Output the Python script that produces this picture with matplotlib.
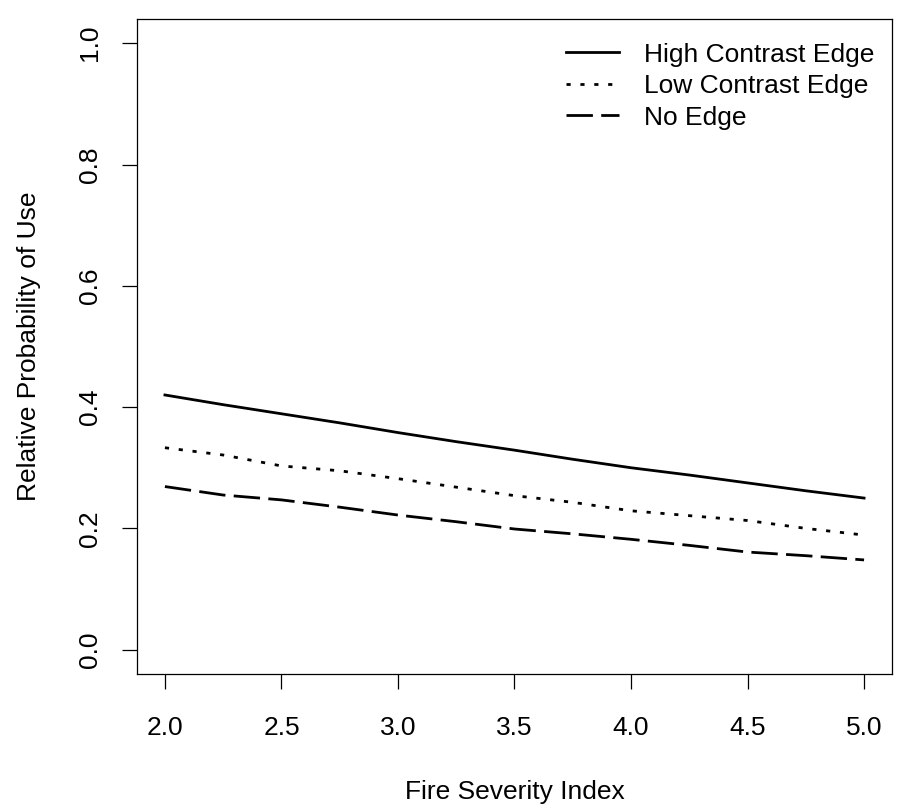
import numpy as np
import matplotlib.pyplot as plt

plt.rcParams['font.family'] = ['Liberation Sans', 'DejaVu Sans']

# Fire severity index values where the curves were read
severity = [2.0, 2.25, 2.5, 2.75, 3.0, 3.25, 3.5, 3.75, 4.0, 4.25, 4.5, 4.75, 5.0]

high_contrast = [0.420, 0.404, 0.389, 0.374, 0.358, 0.343, 0.329, 0.314,
                 0.300, 0.288, 0.275, 0.262, 0.250]
low_contrast = [0.333, 0.321, 0.303, 0.295, 0.282, 0.268, 0.254, 0.243,
                0.229, 0.221, 0.213, 0.200, 0.189]
no_edge = [0.269, 0.255, 0.247, 0.235, 0.222, 0.211, 0.199, 0.191,
           0.182, 0.172, 0.161, 0.155, 0.148]

labels = ['High Contrast Edge', 'Low Contrast Edge', 'No Edge']
xticks = [2.0, 2.5, 3.0, 3.5, 4.0, 4.5, 5.0]
yticks = [0.0, 0.2, 0.4, 0.6, 0.8, 1.0]

fs = 19

fig = plt.figure(figsize=(9.07, 8.11), dpi=100)
ax = fig.add_axes([0.151, 0.169, 0.8325, 0.8076])

ax.plot(severity, high_contrast, color='black', lw=2, label=labels[0])
ax.plot(severity, low_contrast, color='black', lw=2, dashes=(1.5, 3.5), label=labels[1])
ax.plot(severity, no_edge, color='black', lw=2, dashes=(9.5, 3), label=labels[2])

ax.set_xlim(1.88, 5.12)
ax.set_ylim(-0.04, 1.04)
ax.set_xticks(xticks)
ax.set_xticklabels(['%.1f' % v for v in xticks])
ax.set_yticks(yticks)
ax.set_yticklabels(['%.1f' % v for v in yticks], rotation=90, va='center')

ax.tick_params(direction='out', length=11, width=0.9, labelsize=fs)
ax.tick_params(axis='x', pad=19)
ax.tick_params(axis='y', pad=14)
for s in ax.spines.values():
    s.set_linewidth(0.9)

ax.set_xlabel('Fire Severity Index', fontsize=fs, labelpad=29)
ax.set_ylabel('Relative Probability of Use', fontsize=fs, labelpad=27)

ax.legend(loc='upper right', bbox_to_anchor=(1.008, 1.0), frameon=False,
          fontsize=fs, handlelength=2.0, handletextpad=0.95, labelspacing=0.28)

plt.savefig('out.png', dpi=100)
